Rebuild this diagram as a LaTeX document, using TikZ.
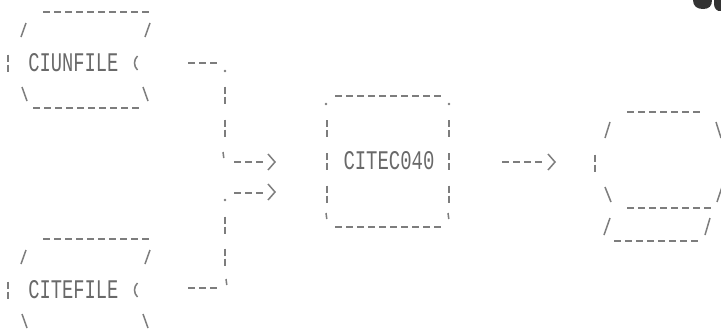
\documentclass[tikz,border=0pt]{standalone}
\usepackage{fontspec}
\usepackage{graphicx}
\newfontfamily\dotfont{Liberation Mono}
\definecolor{ink}{RGB}{125,125,125}
\definecolor{inktxt}{RGB}{105,105,105}
\tikzset{
  stroke/.style={draw=ink, line width=1.5pt, line cap=butt},
  dashrun/.style={stroke, dash pattern=on 7pt off 4pt},
  lbl/.style={inner sep=0pt, text=inktxt, font=\dotfont},
}
\newcommand\dmbar[2]{\draw[stroke] (#1,#2-8.5) -- (#1,#2-1.5) (#1,#2+1.5) -- (#1,#2+8.5);}
\newcommand\dmdot[2]{\fill[ink] (#1,#2) circle[radius=1.3];}
\newcommand\dmtick[2]{\draw[stroke] (#1,#2-3) -- (#1+0.8,#2+3);}
\newcommand\dmgt[2]{\draw[stroke] (#1-3.5,#2-8) -- (#1+3.5,#2) -- (#1-3.5,#2+8);}
\newcommand\dmparen[2]{\draw[stroke] (#1+2.5,#2-7) .. controls (#1-1.5,#2-3) and (#1-1.5,#2+3) .. (#1+2.5,#2+7);}
\begin{document}
\begin{tikzpicture}[x=1pt,y=-1pt]
\useasboundingbox (0,0) rectangle (721,332);
\fill[white] (0,0) rectangle (721,332);
\clip (0,0) rectangle (721,332);

% ---------- CIUNFILE box
\node[lbl] (ciun) at (73.5,63) {\resizebox{90pt}{18pt}{CIUNFILE}};
\draw[dashrun] (43,12) -- (149,12);
\draw[stroke] (26,23) -- (21,37);
\draw[stroke] (150,23) -- (145,37);
\dmbar{8}{63}
\dmparen{135}{63}
\draw[stroke] (22,87) -- (27,101);
\draw[stroke] (143,87) -- (148,101);
\draw[dashrun] (33,108) -- (139,108);

% ---------- CITEFILE box
\node[lbl] (citef) at (73.5,290) {\resizebox{90pt}{18pt}{CITEFILE}};
\draw[dashrun] (43,239) -- (149,239);
\draw[stroke] (26,250) -- (21,264);
\draw[stroke] (150,250) -- (145,264);
\dmbar{8}{290}
\dmparen{135}{290}
\draw[stroke] (22,314) -- (27,328);
\draw[stroke] (143,314) -- (148,328);
\draw[dashrun] (33,334) -- (139,334);

% ---------- CITEC040 box
\node[lbl] (citec) at (389,161) {\resizebox{91pt}{18pt}{CITEC040}};
\draw[dashrun] (335,96) -- (441,96);
\draw[dashrun] (335,227) -- (441,227);
\dmdot{326}{104}
\dmdot{449}{104}
\dmtick{326}{216}
\dmtick{448}{216}
\foreach \yy in {128.5,161.5,194} {\dmbar{327}{\yy} \dmbar{449}{\yy}}

% ---------- connector CIUNFILE -> CITEC040
\coordinate (a1) at (188,63);
\coordinate (a2) at (217,63);
\draw[dashrun] (a1) -- (a2);
\dmdot{225}{71}
\dmbar{225}{95}
\dmbar{225}{128}
\dmtick{223}{155}
\coordinate (a3) at (234,162);
\coordinate (a4) at (263,162);
\draw[dashrun] (a3) -- (a4);
\dmgt{271.5}{162}

% ---------- connector CITEFILE -> CITEC040
\coordinate (b1) at (188,288);
\coordinate (b2) at (217,288);
\draw[dashrun] (b1) -- (b2);
\dmtick{226}{282}
\dmbar{225}{225}
\dmbar{225}{257}
\dmdot{225}{200}
\coordinate (b3) at (234,193);
\coordinate (b4) at (263,193);
\draw[dashrun] (b3) -- (b4);
\dmgt{271.5}{192}

% ---------- connector CITEC040 -> output
\coordinate (c1) at (502,162);
\coordinate (c2) at (542,162);
\draw[dashrun] (c1) -- (c2);
\dmgt{551.5}{162}

% ---------- output file symbol
\coordinate (out) at (660,175);
\draw[dashrun] (627,112) -- (700,112);
\draw[stroke] (610,122) -- (605,138);
\draw[stroke] (716,122) -- (721,138);
\dmbar{595}{163}
\draw[stroke] (605,187) -- (611,202);
\draw[stroke] (722,187) -- (717,202);
\draw[dashrun] (627,208) -- (711,208);
\draw[stroke] (610,218) -- (604,235);
\draw[stroke] (710,218) -- (705,235);
\draw[dashrun] (614,241) -- (698,241);

% ---------- scan fragment, top right corner
\fill[black!80] (693,0) .. controls (693,6) and (697,9) .. (703,9) .. controls (709,9) and (712,6) .. (712,0) -- cycle;
\fill[black!80] (714,0) -- (721,0) -- (721,11) .. controls (717,12) and (714,8) .. (714,4) -- cycle;
\end{tikzpicture}
\end{document}
